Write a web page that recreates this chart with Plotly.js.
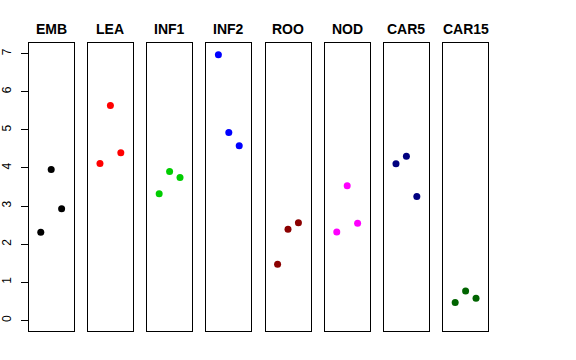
<!DOCTYPE html>
<html>
<head>
<meta charset="utf-8">
<script src="https://cdn.plot.ly/plotly-3.0.1.min.js"></script>
<style>html,body{margin:0;padding:0;background:#fff;}#chart{width:576px;height:360px;}</style>
</head>
<body>
<div id="chart"></div>
<script>
// Data
var categories = ["EMB", "LEA", "INF1", "INF2", "ROO", "NOD", "CAR5", "CAR15"];
var colors = ["#000000", "#FF0000", "#00CD00", "#0000FF", "#8B0000", "#FF00FF", "#000080", "#006400"];
var xPos = [1, 2, 3];
var rep1 = [2.31, 4.12, 3.32, 6.97, 1.47, 2.32, 4.11, 0.47];
var rep2 = [3.96, 5.64, 3.91, 4.93, 2.39, 3.53, 4.31, 0.77];
var rep3 = [2.93, 4.40, 3.75, 4.58, 2.56, 2.55, 3.25, 0.58];
var yTicks = [0, 1, 2, 3, 4, 5, 6, 7];

var W = 576, H = 360;
var panelLeft0 = 28.7, panelPitch = 59.2, panelW = 45;
var yTop = 43, yBot = 331;

var traces = [];
var layout = {
  width: W, height: H,
  margin: {l: 0, r: 0, t: 0, b: 0},
  paper_bgcolor: "#fff", plot_bgcolor: "#fff",
  showlegend: false,
  font: {family: "Liberation Sans, Arial, sans-serif", color: "#000"},
  annotations: []
};

for (var i = 0; i < categories.length; i++) {
  var sfx = i === 0 ? "" : String(i + 1);
  traces.push({
    type: "scatter", mode: "markers",
    x: xPos, y: [rep1[i], rep2[i], rep3[i]],
    xaxis: "x" + sfx, yaxis: "y" + sfx,
    marker: {color: colors[i], size: 7, line: {width: 0}},
    hoverinfo: "skip"
  });
  var l = panelLeft0 + i * panelPitch;
  layout["xaxis" + sfx] = {
    domain: [l / W, (l + panelW) / W],
    range: [-0.16, 4.16],
    showticklabels: false, ticks: "", showgrid: false, zeroline: false,
    showline: true, mirror: true, linecolor: "#000", linewidth: 1,
    anchor: "y" + sfx, fixedrange: true
  };
  var ya = {
    domain: [1 - yBot / H, 1 - yTop / H],
    range: [-0.28, 7.28],
    showgrid: false, zeroline: false,
    showline: true, mirror: true, linecolor: "#000", linewidth: 1,
    anchor: "x" + sfx, fixedrange: true
  };
  if (i === 0) {
    ya.tickmode = "array";
    ya.tickvals = yTicks;
    ya.ticktext = yTicks.map(String);
    ya.ticks = "outside";
    ya.ticklen = 7;
    ya.tickwidth = 1;
    ya.tickcolor = "#000";
    ya.tickangle = -90;
    ya.tickfont = {size: 12, color: "#000", family: "Liberation Sans, Arial, sans-serif"};
    ya.ticklabelstandoff = 5;
    ya.automargin = false;
  } else {
    ya.showticklabels = false;
    ya.ticks = "";
  }
  layout["yaxis" + sfx] = ya;
  layout.annotations.push({
    text: "<b>" + categories[i] + "</b>",
    xref: "paper", yref: "paper",
    x: (l + panelW / 2) / W, y: 1 - 29 / H,
    xanchor: "center", yanchor: "middle",
    showarrow: false,
    font: {size: 14, color: "#000", family: "Liberation Sans, Arial, sans-serif"}
  });
}

Plotly.newPlot("chart", traces, layout, {displayModeBar: false, staticPlot: true});
</script>
</body>
</html>
